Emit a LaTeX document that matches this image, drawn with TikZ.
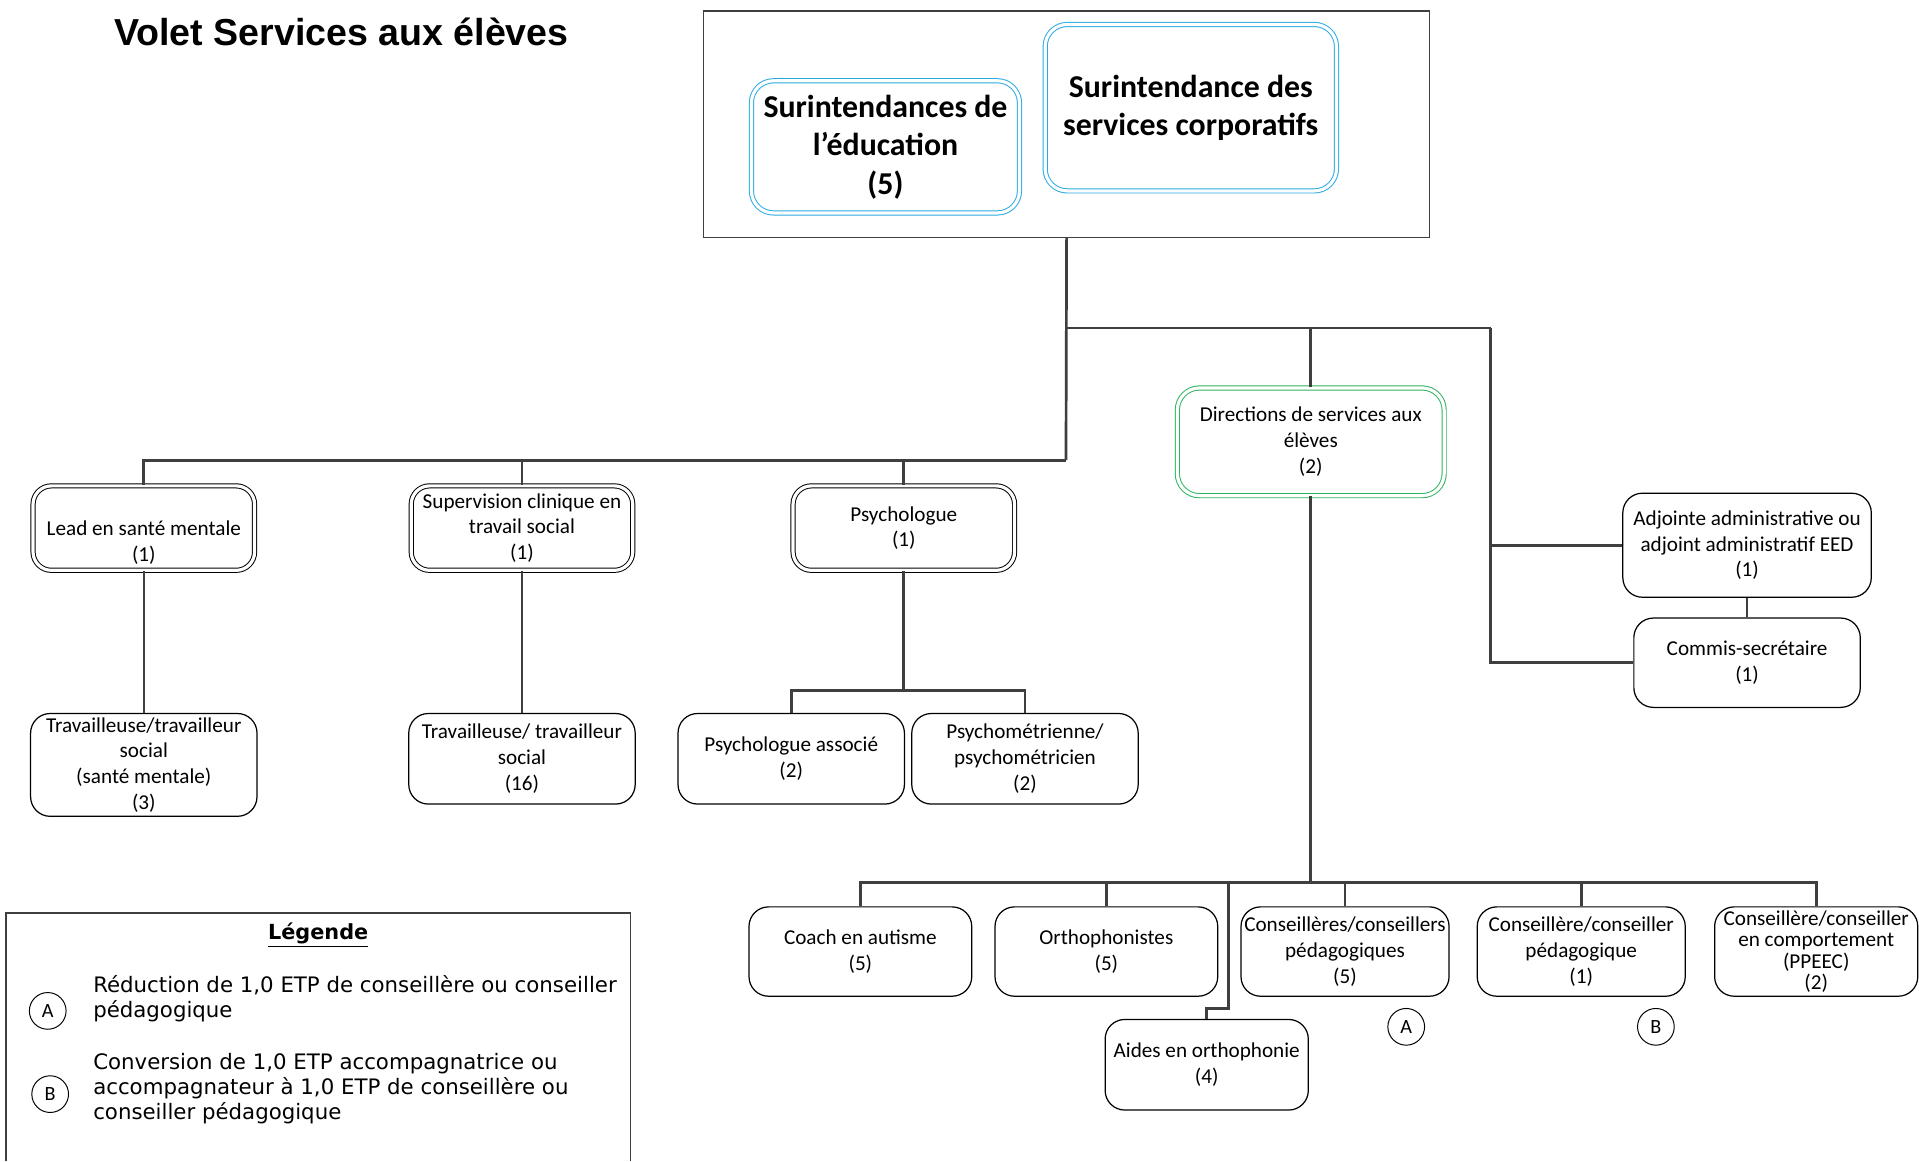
\documentclass[tikz,border=0pt]{standalone}
\usepackage{fontspec}
\setmainfont{Carlito}
\newfontfamily\titlefont{Liberation Sans}
\newfontfamily\legfont{DejaVu Sans}
\usetikzlibrary{calc}
\definecolor{conncol}{HTML}{3F3F3F}
\definecolor{bluecol}{HTML}{29ABE2}
\definecolor{greencol}{HTML}{2DB55D}
\tikzset{
  conn/.style={draw=conncol, line width=2.2pt},
  txt/.style={font=\fontsize{17.3}{21}\selectfont, align=center, inner sep=0pt},
  sbox/.style={txt, draw=black, line width=1pt, rounded corners=16pt},
  dbox/.style={txt, draw=black, double=white, double distance=2.6pt, line width=0.8pt, rounded corners=15pt},
  bbox/.style={align=center, inner sep=0pt, font=\bfseries\fontsize{26}{31.5}\selectfont, draw=bluecol, double=white, double distance=2.6pt, line width=0.8pt, rounded corners=18pt},
  gbox/.style={txt, draw=greencol, double=white, double distance=2.6pt, line width=0.8pt, rounded corners=18pt},
  circ/.style={circle, draw=black, line width=0.8pt, minimum size=30pt, inner sep=0pt, font=\fontsize{16.5}{18}\selectfont},
  leg/.style={font=\legfont\fontsize{17.4}{20.5}\selectfont, align=left, inner sep=0pt, anchor=west}
}
\begin{document}
\begin{tikzpicture}[x=1pt, y=-1pt]
\useasboundingbox[fill=white] (0,0) rectangle (1568,949);

% title
\node[anchor=west, inner sep=0pt, font=\titlefont\bfseries\fontsize{30.7}{34}\selectfont] (title) at (93,26) {Volet Services aux élèves};

% top box
\node[draw=conncol, line width=1.1pt, minimum width=593pt, minimum height=185pt, inner sep=0pt] (topbox) at (871.5,101.5) {};
\node[bbox, minimum width=219pt, minimum height=108pt] (surEdu) at (723.5,120) {Surintendances de\\l’éducation\\(5)};
\node[bbox, minimum width=238pt, minimum height=136pt] (surCorp) at (973,88) {Surintendance des\\services corporatifs};

% second level
\node[dbox, minimum width=181pt, minimum height=69pt] (lead) at (117.5,431.5) {\strut\\Lead en santé mentale\\(1)};
\node[dbox, minimum width=181pt, minimum height=69pt] (sup) at (426.5,431.5) {Supervision clinique en\\travail social\\(1)};
\node[dbox, minimum width=181pt, minimum height=69pt] (psy) at (738.5,431.5) {Psychologue\\(1)};
\node[gbox, minimum width=218pt, minimum height=88pt] (dir) at (1071,361) {Directions de services aux\\élèves\\(2)};
\node[sbox, minimum width=203pt, minimum height=85pt] (adj) at (1427.5,445.5) {Adjointe administrative ou\\adjoint administratif EED\\(1)};
\node[sbox, minimum width=185pt, minimum height=73pt] (com) at (1427.5,541.5) {Commis-secrétaire\\(1)};

% third level
\node[sbox, minimum width=185pt, minimum height=84pt] (tsm) at (117.5,625) {Travailleuse/travailleur\\social\\(santé mentale)\\(3)};
\node[sbox, minimum width=185pt, minimum height=74pt] (ts16) at (426.5,620) {Travailleuse/ travailleur\\social\\(16)};
\node[sbox, minimum width=185pt, minimum height=74pt] (psyassoc) at (646.5,620) {Psychologue associé\\(2)};
\node[sbox, minimum width=185pt, minimum height=74pt] (psym) at (837.5,620) {Psychométrienne/\\psychométricien\\(2)};

% fourth level
\node[sbox, minimum width=182pt, minimum height=73pt] (coach) at (703,777.5) {Coach en autisme\\(5)};
\node[sbox, minimum width=182pt, minimum height=73pt] (ortho) at (904,777.5) {Orthophonistes\\(5)};
\node[sbox, minimum width=170pt, minimum height=73pt] (cp5) at (1099,777.5) {Conseillères/conseillers\\pédagogiques\\(5)};
\node[sbox, minimum width=170pt, minimum height=73pt] (cp1) at (1292,777.5) {Conseillère/conseiller\\pédagogique\\(1)};
\node[sbox, minimum width=166pt, minimum height=73pt, font=\fontsize{17.3}{17.5}\selectfont] (cc) at (1484,777.5) {Conseillère/conseiller\\en comportement\\(PPEEC)\\(2)};
\node[sbox, minimum width=166pt, minimum height=74pt] (aides) at (986,870) {Aides en orthophonie\\(4)};
\node[circ] (ca) at (1149,839) {A};
\node[circ] (cb) at (1353,839) {B};

% junctions
\coordinate (j1) at (871,376);
\coordinate (j2) at (871,268);
\coordinate (j3) at (1218,268);
\coordinate (j4) at (738.5,564);
\coordinate (j5) at (1071,721);
\coordinate (j6) at (1004,721);
\coordinate (k6) at (1004,824);

% connectors
\draw[conn] (topbox.south) -- (j1);
\draw[conn] (lead.north) |- (j1);
\draw[conn] (sup.north) |- (j1);
\draw[conn] (psy.north) |- (j1);
\draw[conn] (dir.north) |- (j2);
\draw[conn] (j2) -- (j3);
\draw[conn] (adj.west) -| (j3);
\draw[conn] (com.west) -| (j3);
\draw[conn] (adj.south) -- (com.north);
\draw[conn, line width=1.6pt] (lead.south) -- (tsm.north);
\draw[conn, line width=1.6pt] (sup.south) -- (ts16.north);
\draw[conn] (psy.south) -- (j4);
\draw[conn] (psyassoc.north) |- (j4);
\draw[conn] (psym.north) |- (j4);
\draw[conn] (dir.south) -- (j5);
\draw[conn] (coach.north) |- (j5);
\draw[conn] (ortho.north) |- (j5);
\draw[conn] (cp5.north) |- (j5);
\draw[conn] (cp1.north) |- (j5);
\draw[conn] (cc.north) |- (j5);
\draw[conn] (aides.north) |- (k6) -- (j6);

% legend
\draw[draw=conncol, line width=1.1pt] (5,949) -- (5,746) -- (515,746) -- (515,949);
\node[inner sep=0pt, font=\legfont\bfseries\fontsize{17}{20}\selectfont] (legtitle) at (260,764) {\underline{Légende}};
\node[circ] (la) at (39,826) {A};
\node[leg] (lta) at (76,816) {Réduction de 1,0 ETP de conseillère ou conseiller\\pédagogique};
\node[circ] (lb) at (41,894) {B};
\node[leg] (ltb) at (76,889.5) {Conversion de 1,0 ETP accompagnatrice ou\\accompagnateur à 1,0 ETP de conseillère ou\\conseiller pédagogique};
\end{tikzpicture}
\end{document}
